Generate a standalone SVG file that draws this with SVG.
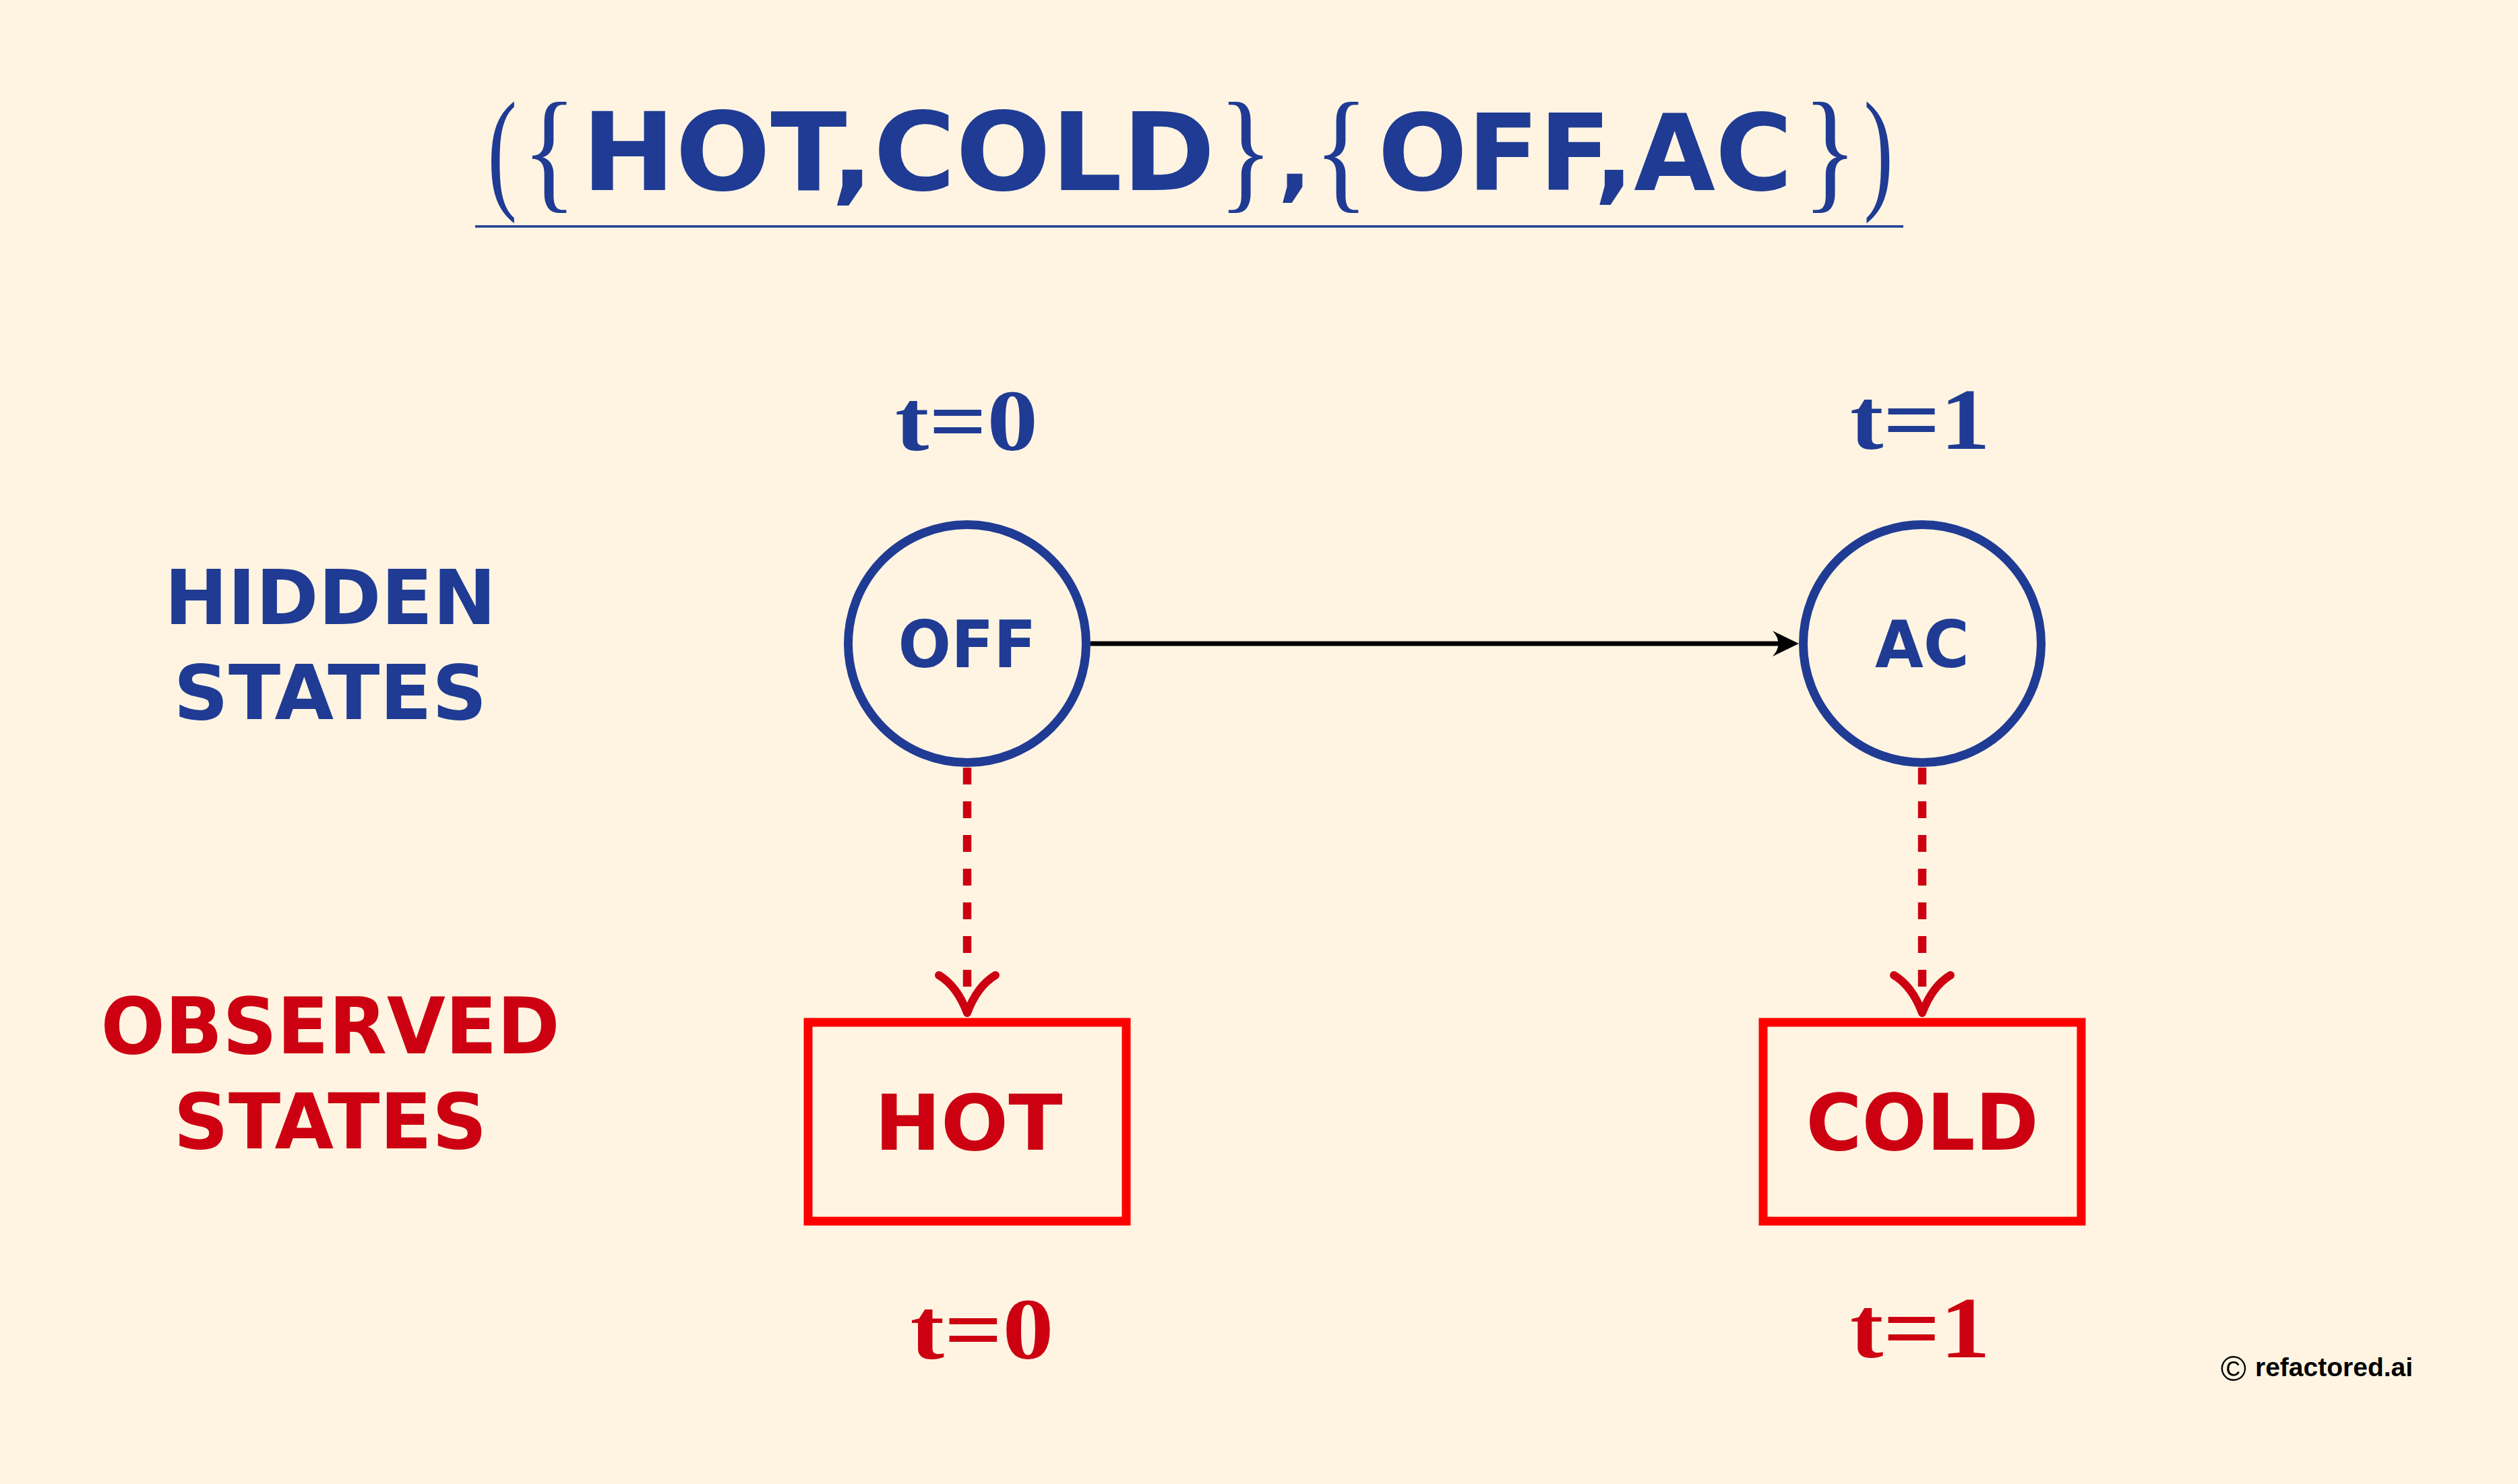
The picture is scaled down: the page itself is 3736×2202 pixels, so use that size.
<svg xmlns="http://www.w3.org/2000/svg" width="3736" height="2202" viewBox="0 0 3736 2202">
  <style>
    .sans { font-family: "DejaVu Sans", "Liberation Sans", sans-serif; font-weight: bold; }
    .serif { font-family: "Liberation Serif", "DejaVu Serif", serif; font-weight: normal; }
    .tl { font-family: "Liberation Serif", "DejaVu Serif", serif; font-weight: bold; font-size: 130px; }
    .delim { font-family: "Liberation Serif", "DejaVu Serif", serif; font-weight: normal; font-size: 199px; }
    .blue { fill: #1f3b93; }
    .red { fill: #cc0011; }
    .hidden-node { fill: none; stroke: #1f3b93; stroke-width: 13; }
    .obs-node { fill: none; stroke: #ff0000; stroke-width: 13; }
    .emit { fill: none; stroke: #cc0011; stroke-width: 12.5; stroke-dasharray: 25 25; }
    .emit-head { fill: none; stroke: #cc0011; stroke-width: 12; stroke-linecap: round; stroke-linejoin: round; }
    .trans { fill: none; stroke: #000000; stroke-width: 7; }
  </style>
  <defs>
    <path id="openHead" d="M-42,-56 Q-15,-40 0,0 M42,-56 Q15,-40 0,0"/>
  </defs>
  <rect x="0" y="0" width="3736" height="2202" fill="#fff4e2"/>

  <g id="title">
    <text class="delim blue" text-anchor="middle" transform="translate(745,289) scale(0.66,1)">(</text>
    <text class="delim blue" text-anchor="middle" transform="translate(815,289) scale(0.85,1)">{</text>
    <text class="sans blue" x="1333" y="282" font-size="160" text-anchor="middle" textLength="940" lengthAdjust="spacingAndGlyphs">HOT,COLD</text>
    <text class="delim blue" text-anchor="middle" transform="translate(1848,289) scale(0.85,1)">}</text>
    <text class="sans blue" x="1921" y="282" font-size="130" text-anchor="middle">,</text>
    <text class="delim blue" text-anchor="middle" transform="translate(1990,289) scale(0.85,1)">{</text>
    <text class="sans blue" x="2352" y="282" font-size="156" text-anchor="middle">OFF,AC</text>
    <text class="delim blue" text-anchor="middle" transform="translate(2715,289) scale(0.85,1)">}</text>
    <text class="delim blue" text-anchor="middle" transform="translate(2787,289) scale(0.66,1)">)</text>
    <line x1="705" y1="336" x2="2824" y2="336" stroke="#1f3b93" stroke-width="3.3"/>
  </g>

  <g id="row-labels">
    <text class="sans blue" x="490" y="926" font-size="112" text-anchor="middle" textLength="492" lengthAdjust="spacingAndGlyphs">HIDDEN</text>
    <text class="sans blue" x="490" y="1067" font-size="113" text-anchor="middle" textLength="465" lengthAdjust="spacingAndGlyphs">STATES</text>
    <text class="sans red" x="490" y="1563" font-size="115" text-anchor="middle" textLength="681" lengthAdjust="spacingAndGlyphs">OBSERVED</text>
    <text class="sans red" x="490" y="1704" font-size="114" text-anchor="middle" textLength="465" lengthAdjust="spacingAndGlyphs">STATES</text>
  </g>

  <g id="time-labels">
    <text class="tl blue" x="1434" y="668" text-anchor="middle" textLength="212" lengthAdjust="spacingAndGlyphs">t=0</text>
    <text class="tl blue" x="2849" y="666" text-anchor="middle" textLength="208" lengthAdjust="spacingAndGlyphs">t=1</text>
    <text class="tl red" x="1457" y="2016" text-anchor="middle" textLength="213" lengthAdjust="spacingAndGlyphs">t=0</text>
    <text class="tl red" x="2849" y="2014" text-anchor="middle" textLength="208" lengthAdjust="spacingAndGlyphs">t=1</text>
  </g>

  <g id="node-off">
    <circle class="hidden-node" cx="1435" cy="955" r="176.5"/>
    <text class="sans blue" x="1435" y="990" font-size="96" text-anchor="middle" textLength="205" lengthAdjust="spacingAndGlyphs">OFF</text>
  </g>

  <g id="node-ac">
    <circle class="hidden-node" cx="2852" cy="955" r="176.5"/>
    <text class="sans blue" x="2852" y="990" font-size="96" text-anchor="middle" textLength="140" lengthAdjust="spacingAndGlyphs">AC</text>
  </g>

  <g id="node-hot">
    <rect class="obs-node" x="1199" y="1517" width="472" height="295"/>
    <text class="sans red" x="1437" y="1706" font-size="114" text-anchor="middle" textLength="279" lengthAdjust="spacingAndGlyphs">HOT</text>
  </g>

  <g id="node-cold">
    <rect class="obs-node" x="2616" y="1517" width="472" height="295"/>
    <text class="sans red" x="2852" y="1706" font-size="115" text-anchor="middle" textLength="345" lengthAdjust="spacingAndGlyphs">COLD</text>
  </g>

  <g id="connectors">
    <line class="trans" x1="1618" y1="955" x2="2645" y2="955"/>
    <path d="M2669,955 L2630,936 Q2647,955 2630,974 Z" fill="#000000"/>
    <line class="emit" x1="1435" y1="1139" x2="1435" y2="1464"/>
    <use href="#openHead" class="emit-head" transform="translate(1435,1503)"/>
    <line class="emit" x1="2852" y1="1139" x2="2852" y2="1464"/>
    <use href="#openHead" class="emit-head" transform="translate(2852,1503)"/>
  </g>

  <g id="credit">
    <text x="3314" y="2049" font-family="Liberation Sans, sans-serif" font-size="52" text-anchor="middle">©</text>
    <text x="3346" y="2042" font-family="Liberation Sans, sans-serif" font-weight="bold" font-size="39">refactored.ai</text>
  </g>
</svg>
